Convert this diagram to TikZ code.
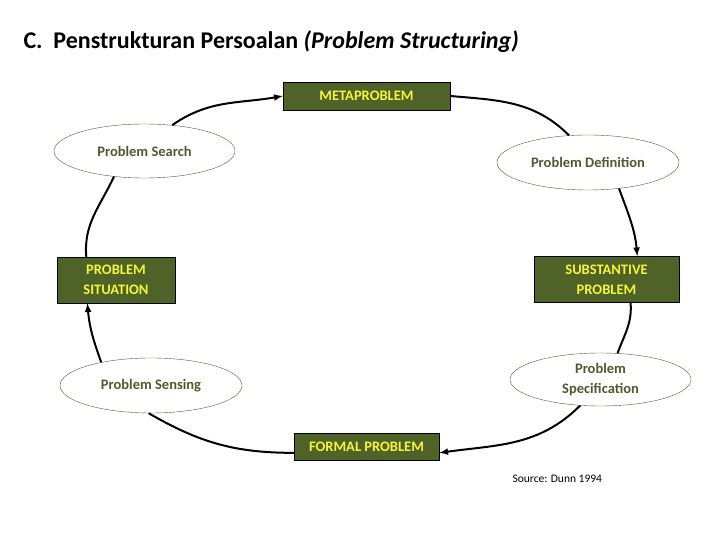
\documentclass[tikz,border=0pt]{standalone}
\usepackage{fontspec}
\setmainfont{Carlito}
\usepackage{tikz}
\usetikzlibrary{arrows.meta, shapes.geometric}
\usepackage{xcolor}
\definecolor{olivebox}{HTML}{4F6228}
\definecolor{boxtext}{HTML}{F5F53C}
\definecolor{ovaltext}{HTML}{4F5A2E}

\begin{document}
\begin{tikzpicture}[x=1pt, y=1pt, >=latex]
				\tikzstyle{box} = [draw=black, fill=olivebox, text=boxtext, font=\bfseries\fontsize{14.5}{20}\selectfont, align=center, inner sep=0pt]
				\tikzstyle{oval} = [draw=olivebox, ellipse, fill=white, text=ovaltext, font=\bfseries\fontsize{14.5}{19.5}\selectfont, align=center, inner sep=0pt]
				\tikzstyle{flow} = [line width=2pt, draw=black]
				
				\useasboundingbox (0,0) rectangle (720,540);
				
				\node[anchor=west, font=\bfseries\fontsize{24}{28}\selectfont] at (20,498) (title) {C.\ \ Penstrukturan Persoalan \textit{(Problem Structuring)}};
				
				\node[box, minimum width=167, minimum height=28] 	at (366.5,444) 	(meta) 		{METAPROBLEM};
				\node[oval, minimum width=181, minimum height=54] 	at (144.5,389) 	(search) 	{Problem Search};
				\node[oval, minimum width=182, minimum height=55] 	at (588,377.5) 	(definition) {Problem Definition};
				\node[box, minimum width=118, minimum height=46] 	at (116,260) 	(situation) {PROBLEM\\SITUATION};
				\node[box, minimum width=145, minimum height=46] 	at (606.5,260.5) (substantive) {SUBSTANTIVE\\PROBLEM};
				\node[oval, minimum width=182, minimum height=55] 	at (151,154.5) 	(sensing) 	{Problem Sensing};
				\node[oval, minimum width=181, minimum height=53] 	at (600.5,160.5) (specification) {Problem\\Specification};
				\node[box, minimum width=145, minimum height=27] 	at (366.5,93.5) (formal) 	{FORMAL PROBLEM};
				\node[anchor=west, font=\fontsize{11.5}{14}\selectfont] at (509,61) (source) {Source: Dunn 1994};
				
				\draw[flow, ->]	(search.43) 		to[out=35, in=190] 	(meta.west);
				\draw[flow]		(meta.east) 		to[out=-5, in=135] 	(definition.125);
				\draw[flow, ->]	(definition.-40) 	to[out=-70, in=95] 	(substantive.37);
				\draw[flow]		(substantive.-44) 	to[out=-85, in=70] 	(specification.57);
				\draw[flow, ->]	(specification.-128) to[out=-135, in=8] (formal.-5);
				\draw[flow]		(formal.185) 		to[out=180, in=-30] (sensing.-95);
				\draw[flow, ->]	(sensing.155) 		to[out=110, in=-85] (situation.-141);
				\draw[flow]		(situation.142) 	to[out=95, in=-115] (search.-140);
			\end{tikzpicture}
\end{document}
